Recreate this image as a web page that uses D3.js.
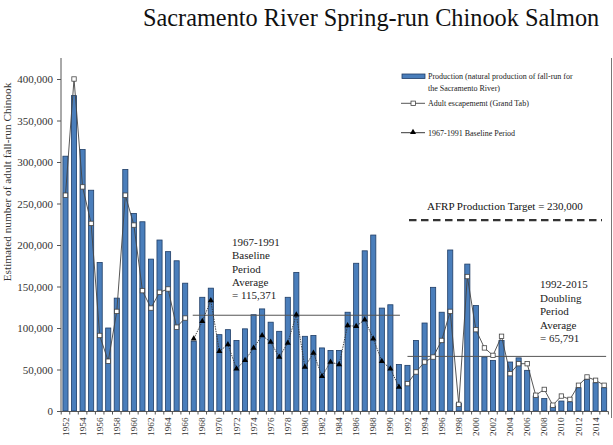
<!DOCTYPE html>
<html><head><meta charset="utf-8">
<script src="https://cdn.jsdelivr.net/npm/d3@7"></script>
<style>
html,body{margin:0;padding:0;background:#fff;}
svg{display:block;}
svg text{font-family:"Liberation Serif","Times New Roman",serif;}
</style></head>
<body><svg id="c" width="613" height="445"></svg>
<script>
const years = d3.range(1952, 2016);
const production = [307000,380000,315000,266000,179000,100000,136000,291000,238000,228000,
183000,206000,192000,181000,154000,84000,137000,148000,92000,98000,
85000,99000,116000,123000,107000,96000,137000,167000,90000,91000,
76000,73000,73000,119000,178000,193000,212000,124000,128000,56000,
55000,85000,106000,149000,119000,194000,9000,177000,127000,65000,
61000,85000,59000,64000,49000,18000,15000,6000,12000,11000,
28000,38000,34000,28000];
const escapementEarlyYears = d3.range(1952, 1967);
const escapementEarly = [260000,400000,270000,226000,91000,60000,120000,260000,224000,145000,124000,143000,147000,101000,112000];
const escapementLateYears = d3.range(1992, 2016);
const escapementLate = [33000,47000,59000,65000,85000,120000,8000,162000,98000,76000,67000,90000,45000,57000,57000,19000,26000,7000,18000,14000,31000,41000,37000,31000];
const baselineYears = d3.range(1967, 1992);
const baseline = [87000,108000,133000,72000,80000,51000,61000,76000,91000,83000,65000,82000,116000,53000,70000,42000,59000,56000,103000,102000,110000,87000,60000,51000,29000];
const yTicks = [0,50000,100000,150000,200000,250000,300000,350000,400000];
const xTickYears = d3.range(1952, 2016, 2);
const baselineAvg = 115371, doublingAvg = 65791, afrpTarget = 230000;
const titleText = "Sacramento River Spring-run Chinook Salmon";
const yLabel = "Estimated number of adult fall-run Chinook";
const legendLabels = [["Production (natural production of fall-run for","the Sacramento River)"],["Adult escapememt (Grand Tab)"],["1967-1991 Baseline Period"]];
const baselineNote = ["1967-1991","Baseline","Period","Average","= 115,371"];
const doublingNote = ["1992-2015","Doubling","Period","Average","= 65,791"];
const afrpText = "AFRP Production Target = 230,000";

const svg = d3.select("#c");
const x = d3.scaleBand().domain(years).range([61.2, 608.4]).paddingInner(0.4).paddingOuter(0.2);
const y = d3.scaleLinear().domain([0, 400000]).range([411, 79]);
const cx = yr => x(yr) + x.bandwidth()/2;

// title
svg.append("text").attr("x", 143).attr("y", 26).attr("font-size", 24.3).attr("fill", "#111").text(titleText);

// right frame line
svg.append("line").attr("x1", 611.5).attr("x2", 611.5).attr("y1", 58).attr("y2", 418).attr("stroke", "#777").attr("stroke-width", 1);

// y axis
const ya = svg.append("g").attr("transform", "translate(61,0)")
  .call(d3.axisLeft(y).tickValues(yTicks).tickFormat(d3.format(",")).tickSize(4).tickPadding(4));
ya.attr("font-family", null);
ya.select(".domain").remove();
ya.selectAll("line").attr("stroke", "#555");
ya.selectAll("text").attr("font-size", 11).attr("fill", "#333");
svg.append("line").attr("x1", 61).attr("x2", 61).attr("y1", 58).attr("y2", 411).attr("stroke", "#555");

// y label
svg.append("text").attr("transform", "translate(10.5,182) rotate(-90)").attr("text-anchor", "middle")
  .attr("font-size", 11.3).attr("fill", "#333").text(yLabel);

// bars
svg.append("g").selectAll("rect").data(years).join("rect")
  .attr("x", d => x(d)).attr("width", x.bandwidth())
  .attr("y", (d,i) => y(production[i])).attr("height", (d,i) => y(0) - y(production[i]))
  .attr("fill", "#4a7ebb").attr("stroke", "#1f3d66").attr("stroke-width", 0.8);

// x axis
svg.append("line").attr("x1", 61).attr("x2", 608.4).attr("y1", 411.5).attr("y2", 411.5).attr("stroke", "#555");
svg.append("g").selectAll("line").data(years.concat([2016])).join("line")
  .attr("x1", d => d === 2016 ? 608.4 : x(d) - x.step()*x.paddingInner()/2)
  .attr("x2", d => d === 2016 ? 608.4 : x(d) - x.step()*x.paddingInner()/2)
  .attr("y1", 411.5).attr("y2", 414.5).attr("stroke", "#555");
svg.append("g").selectAll("text").data(xTickYears).join("text")
  .attr("transform", d => `translate(${cx(d)+3.1},417.5) rotate(-90)`)
  .attr("text-anchor", "end").attr("font-size", 9.2).attr("fill", "#333").text(d => d);

// averages
svg.append("line").attr("x1", cx(1967) - 1).attr("x2", cx(1991) + 1)
  .attr("y1", y(baselineAvg)).attr("y2", y(baselineAvg)).attr("stroke", "#555").attr("stroke-width", 1);
svg.append("line").attr("x1", cx(1992)).attr("x2", cx(2015) + 2)
  .attr("y1", y(doublingAvg)).attr("y2", y(doublingAvg)).attr("stroke", "#555").attr("stroke-width", 1);

// AFRP target
svg.append("line").attr("x1", 409).attr("x2", 602).attr("y1", y(afrpTarget)).attr("y2", y(afrpTarget))
  .attr("stroke", "#333").attr("stroke-width", 2.2).attr("stroke-dasharray", "7.5,4.5");
svg.append("text").attr("x", 427).attr("y", 209.5).attr("font-size", 11).attr("fill", "#111").text(afrpText);

// notes
svg.append("g").selectAll("text").data(baselineNote).join("text")
  .attr("x", 232).attr("y", (d,i) => 245.8 + i*13.4).attr("font-size", 11).attr("fill", "#222").text(d => d);
svg.append("g").selectAll("text").data(doublingNote).join("text")
  .attr("x", 540).attr("y", (d,i) => 288.3 + i*13.5).attr("font-size", 11).attr("fill", "#222").text(d => d);

// escapement lines
const lineE = d3.line().x(d => cx(d[0])).y(d => y(d[1]));
const earlyPts = escapementEarlyYears.map((yr,i) => [yr, escapementEarly[i]]);
const latePts = escapementLateYears.map((yr,i) => [yr, escapementLate[i]]);
[earlyPts, latePts].forEach(pts => {
  svg.append("path").attr("d", lineE(pts)).attr("fill", "none").attr("stroke", "#444").attr("stroke-width", 0.9);
  svg.append("g").selectAll("rect").data(pts).join("rect")
    .attr("x", d => cx(d[0]) - 2.2).attr("y", d => y(d[1]) - 2.2).attr("width", 4.4).attr("height", 4.4)
    .attr("fill", "#fff").attr("stroke", "#444").attr("stroke-width", 0.8);
});

// baseline
const basePts = baselineYears.map((yr,i) => [yr, baseline[i]]);
svg.append("path").attr("d", lineE(basePts)).attr("fill", "none").attr("stroke", "#333")
  .attr("stroke-width", 0.9).attr("stroke-dasharray", "1.5,1");
const tri = d3.symbol().type(d3.symbolTriangle).size(16);
svg.append("g").selectAll("path").data(basePts).join("path")
  .attr("transform", d => `translate(${cx(d[0])},${y(d[1])})`).attr("d", tri).attr("fill", "#000");

// legend
const lg = svg.append("g").attr("font-size", 8).attr("fill", "#222");
lg.append("rect").attr("x", 402).attr("y", 74).attr("width", 23).attr("height", 4.5)
  .attr("fill", "#4a7ebb").attr("stroke", "#1f3d66").attr("stroke-width", 0.8);
lg.append("text").attr("x", 428).attr("y", 79).text(legendLabels[0][0]);
lg.append("text").attr("x", 428).attr("y", 90.5).text(legendLabels[0][1]);
lg.append("line").attr("x1", 401).attr("x2", 425).attr("y1", 103.3).attr("y2", 103.3).attr("stroke", "#444").attr("stroke-width", 0.9);
lg.append("rect").attr("x", 411).attr("y", 101.1).attr("width", 4.4).attr("height", 4.4).attr("fill", "#fff").attr("stroke", "#444").attr("stroke-width", 0.8);
lg.append("text").attr("x", 428).attr("y", 106.3).text(legendLabels[1][0]);
lg.append("line").attr("x1", 401).attr("x2", 425).attr("y1", 132.7).attr("y2", 132.7).attr("stroke", "#222").attr("stroke-width", 0.9);
lg.append("path").attr("transform", "translate(413,132.2)").attr("d", tri).attr("fill", "#000");
lg.append("text").attr("x", 428).attr("y", 135.7).text(legendLabels[2][0]);
</script></body></html>
